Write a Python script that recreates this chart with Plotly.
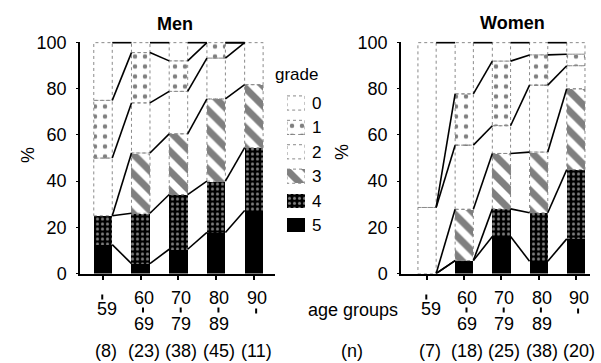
import plotly.graph_objects as go

# ---------------- data ----------------
grades = ["0", "1", "2", "3", "4", "5"]
age_from = ["", "60", "70", "80", "90"]
age_to = ["59", "69", "79", "89", ""]
men_n = ["(8)", "(23)", "(38)", "(45)", "(11)"]
women_n = ["(7)", "(18)", "(25)", "(38)", "(20)"]

# percentage of each grade within each age group
men_g5 = [12.5, 4.3, 10.5, 17.8, 27.3]
men_g4 = [12.5, 21.8, 23.7, 22.2, 27.2]
men_g3 = [0.0, 26.1, 26.3, 35.6, 27.3]
men_g2 = [25.0, 21.7, 18.4, 17.7, 18.2]
men_g1 = [25.0, 21.8, 13.2, 6.7, 0.0]
men_g0 = [25.0, 4.3, 7.9, 0.0, 0.0]

women_g5 = [0.0, 5.6, 16.0, 5.3, 15.0]
women_g4 = [0.0, 0.0, 12.0, 21.0, 30.0]
women_g3 = [0.0, 22.2, 24.0, 26.3, 35.0]
women_g2 = [28.6, 27.8, 12.0, 29.0, 10.0]
women_g1 = [0.0, 22.2, 28.0, 13.1, 5.0]
women_g0 = [71.4, 22.2, 8.0, 5.3, 5.0]

men = {"5": men_g5, "4": men_g4, "3": men_g3, "2": men_g2, "1": men_g1, "0": men_g0}
women = {"5": women_g5, "4": women_g4, "3": women_g3, "2": women_g2, "1": women_g1, "0": women_g0}

# ---------------- styles ----------------
W, H = 601, 363
FONT = "Liberation Sans, Arial, sans-serif"
BW = 0.49

def py(pix):
    return 1 - pix / H

def px(pix):
    return pix / W

styles = {
    "0": dict(color="white"),
    "1": dict(color="white", pattern=dict(shape=".", fgcolor="black", bgcolor="white", size=10, solidity=0.16)),
    "2": dict(color="white"),
    "3": dict(color="white", pattern=dict(shape="\\", fgcolor="black", bgcolor="white", size=14, solidity=0.5)),
    "4": dict(color="black", pattern=dict(shape=".", fgcolor="white", bgcolor="black", size=5, solidity=0.3)),
    "5": dict(color="black"),
}
stack_order = ["5", "4", "3", "2", "1", "0"]

fig = go.Figure()

panels = [(men, "x", "y"), (women, "x2", "y2")]
for data, xa, ya in panels:
    cats = list(range(len(age_to)))
    for g in stack_order:
        fig.add_trace(go.Bar(
            x=cats, y=data[g], width=BW, xaxis=xa, yaxis=ya,
            marker=dict(**styles[g], line=dict(width=0)),
            showlegend=False, hoverinfo="skip"))
    # dotted outlines of the light segments
    ox, oy = [], []
    base = [0.0] * len(cats)
    for g in stack_order:
        for i in cats:
            y0, y1 = base[i], base[i] + data[g][i]
            if g not in ("5", "4") and data[g][i] > 0:
                x0, x1 = i - BW / 2, i + BW / 2
                ox += [x0, x1, x1, x0, x0, None]
                oy += [y0, y0, y1, y1, y0, None]
        base = [base[i] + data[g][i] for i in cats]
    fig.add_trace(go.Scatter(x=ox, y=oy, mode="lines", xaxis=xa, yaxis=ya,
                             line=dict(color="#8a8a8a", width=1, dash="dot"),
                             showlegend=False, hoverinfo="skip"))
    # connector lines between the cumulative boundaries of neighbouring bars
    cx, cy = [], []
    cum = [0.0] * len(cats)
    for g in stack_order:
        cum = [cum[i] + data[g][i] for i in cats]
        for i in cats[:-1]:
            cx += [i + BW / 2, i + 1 - BW / 2, None]
            cy += [cum[i], cum[i + 1], None]
    fig.add_trace(go.Scatter(x=cx, y=cy, mode="lines", xaxis=xa, yaxis=ya,
                             line=dict(color="black", width=1.6),
                             showlegend=False, hoverinfo="skip"))

# legend drawn as a small bar subplot
for k, g in enumerate(grades):
    fig.add_trace(go.Bar(
        x=[1], y=[k], orientation="h", width=0.58, xaxis="x3", yaxis="y3",
        marker=dict(**styles[g], line=dict(width=0)),
        showlegend=False, hoverinfo="skip"))
lx, ly = [], []
for k, g in enumerate(grades):
    if g in ("0", "1", "2", "3"):
        lx += [0, 1, 1, 0, 0, None]
        ly += [k - 0.29, k - 0.29, k + 0.29, k + 0.29, k - 0.29, None]
fig.add_trace(go.Scatter(x=lx, y=ly, mode="lines", xaxis="x3", yaxis="y3",
                         line=dict(color="#8a8a8a", width=1, dash="dot"),
                         showlegend=False, hoverinfo="skip"))

ydom = [py(273.5), py(41.5)]
xcommon = dict(showgrid=False, zeroline=False, showline=True, linecolor="black", linewidth=1.5,
               ticks="outside", ticklen=5, tickwidth=1.5, tickcolor="black",
               tickvals=list(range(5)), showticklabels=False, fixedrange=True)
ycommon = dict(range=[0, 100.5], domain=ydom, showgrid=False, zeroline=False, showline=True,
               linecolor="black", linewidth=1.5, ticks="outside", ticklen=2, tickcolor="black",
               tickvals=[0, 20, 40, 60, 80, 100], ticklabelstandoff=6,
               tickfont=dict(family=FONT, size=18, color="black"), fixedrange=True)

fig.update_layout(
    width=W, height=H, margin=dict(l=0, r=0, t=0, b=0, autoexpand=False),
    paper_bgcolor="white", plot_bgcolor="white",
    barmode="stack", bargap=0, showlegend=False,
    font=dict(family=FONT, size=18, color="black"),
    xaxis=dict(domain=[px(80), px(275)], range=[-0.61, 4.56], anchor="y", **xcommon),
    yaxis=dict(anchor="x", **ycommon),
    xaxis2=dict(domain=[px(401), px(590)], range=[-0.70, 4.38], anchor="y2", **xcommon),
    yaxis2=dict(anchor="x2", **ycommon),
    xaxis3=dict(domain=[px(287), px(305)], range=[0, 1], visible=False, fixedrange=True),
    yaxis3=dict(domain=[py(237.2), py(90.8)], range=[5.5, -0.5], anchor="x3", side="right",
                showgrid=False, zeroline=False, showline=False, ticks="",
                tickvals=list(range(6)), ticktext=grades, ticklabelstandoff=6,
                tickfont=dict(family=FONT, size=17, color="black"), fixedrange=True),
)

ann = []
shapes = []
def add(text, x, y, size=18, xref="paper", **kw):
    ann.append(dict(text=text, x=x, y=y, xref=xref, yref="paper", showarrow=False,
                    xanchor="center", yanchor="middle",
                    font=dict(family=FONT, size=size, color="black"), **kw))

def dash(x, xref, ycen):
    shapes.append(dict(type="line", xref=xref, yref="paper", x0=x, x1=x,
                       y0=py(ycen - 2.5), y1=py(ycen + 2.5),
                       line=dict(color="black", width=2)))

add("<b>Men</b>", px(175), py(24))
add("<b>Women</b>", px(512), py(22.5))
add("%", px(28), py(155), textangle=-90)
add("%", px(342), py(152), textangle=-90)
add("grade", px(296), py(74), size=17)
add("age groups", px(353), py(310))
add("(n)", px(352), py(351))

for xr, nlab in (("x", men_n), ("x2", women_n)):
    for i in range(len(age_to)):
        lo, hi = age_from[i], age_to[i]
        if lo and hi:
            add(lo, i, py(298), xref=xr, xshift=3)
            dash(i + 0.06, xr, 310)
            add(hi, i, py(324), xref=xr, xshift=3)
        elif hi:
            dash(i - 0.02, xr, 297)
            add(hi, i, py(309), xref=xr, xshift=4)
        else:
            add(lo, i, py(298), xref=xr, xshift=3)
            dash(i + 0.06, xr, 311)
        add(nlab[i], i, py(351), xref=xr, xshift=3)

fig.update_layout(annotations=ann, shapes=shapes)
fig.write_html("out.html", config={"displayModeBar": False},
               post_script="document.body.style.margin='0px';")
